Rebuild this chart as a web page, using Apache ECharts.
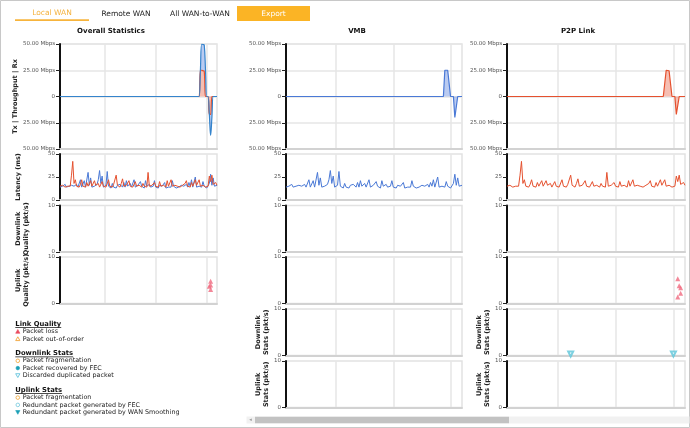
<!DOCTYPE html>
<html>
<head>
<meta charset="utf-8">
<script src="https://cdn.jsdelivr.net/npm/echarts@6/dist/echarts.min.js"></script>
<style>
html, body { margin: 0; padding: 0; background: #fff; }
#main { width: 690px; height: 428px; }
</style>
</head>
<body>
<div id="main"></div>
<script>
// ---- data ----
const sampleCount = 124
const gridMarks = [35, 75, 115]   // sample index of the vertical grid lines

// throughput (Mbps), Rx positive / Tx negative, [sample, value]
const vmbThroughput = [[110, 0], [111, 25], [112, 25], [113, 25], [114, 25], [115, 0],
                       [117, 0], [118, -20], [119, -20], [120, 0]]
const p2pThroughput = [[109, 0], [110, 25], [111, 25], [112, 24.5], [113, 24], [114, 0],
                       [116, 0], [117, -17], [118, -17], [119, 0]]

// latency (ms)
const vmbLatency = [
  14, 13, 15, 14, 17, 14, 13, 15, 14, 16,
  14, 15, 13, 17, 14, 15, 22, 14, 13, 21,
  14, 15, 30, 16, 24, 14, 13, 15, 14, 17,
  22, 32, 18, 26, 14, 15, 16, 31, 15, 14,
  13, 18, 14, 15, 13, 16, 14, 17, 15, 14,
  19, 14, 21, 15, 13, 18, 14, 15, 22, 14,
  13, 16, 14, 20, 15, 14, 13, 21, 15, 14,
  17, 14, 13, 15, 21, 14, 15, 13, 16, 14,
  15, 14, 19, 13, 15, 14, 16, 14, 21, 15,
  14, 13, 15, 14, 13, 16, 14, 15, 14, 17,
  14, 19, 15, 22, 14, 15, 25, 14, 13, 15,
  16, 14, 20, 15, 14, 13, 14, 18, 28, 16,
  24, 15, 14, 16
]
const p2pLatency = [
  15, 14, 16, 15, 14, 16, 15, 17, 15, 27,
  42, 18, 22, 15, 16, 14, 17, 22, 15, 16,
  14, 19, 15, 17, 21, 15, 14, 21, 16, 15,
  18, 14, 15, 20, 15, 16, 14, 15, 22, 15,
  16, 14, 17, 15, 27, 16, 15, 14, 18, 23,
  15, 14, 16, 15, 21, 15, 17, 14, 15, 20,
  15, 14, 16, 15, 14, 18, 15, 16, 14, 30,
  15, 14, 16, 15, 19, 15, 16, 14, 20, 15,
  14, 16, 15, 14, 21, 15, 17, 22, 15, 14,
  16, 14, 15, 17, 14, 15, 16, 14, 18, 21,
  15, 16, 14, 19, 15, 17, 22, 16, 15, 22,
  15, 14, 16, 15, 14, 16, 15, 26, 20, 27,
  17, 15, 19, 16
]

// packet events (pkt/s), [sample, value]
const overallPacketLoss = [[118, 4.8], [118, 4.0], [117, 3.7], [118, 3.0]]
const p2pPacketLoss = [[118, 5.3], [119, 3.8], [120, 3.4], [120, 2.2], [118, 1.4]]
const p2pDiscardedDup = [[44, 0], [115, 0]]

// ---- layout / style ----
const FONT = '"DejaVu Sans", Verdana, sans-serif'
const colors = {
    blue: '#4a79d6',
    blueFill: 'rgba(96,136,222,0.62)',
    red: '#e5512f',
    redFill: 'rgba(236,118,92,0.68)',
    loss: '#f06a80',
    dup: '#5cc6da'
}
const columns = [
    { left: 60, width: 157, title: 'Overall Statistics', center: 111, panels: 4 },
    { left: 286, width: 176, title: 'VMB', center: 357, panels: 6 },
    { left: 507, width: 178, title: 'P2P Link', center: 578, panels: 6 }
]
const panels = [
    { key: 'throughput', top: 44, height: 105 },
    { key: 'latency', top: 154, height: 46 },
    { key: 'downQuality', top: 205.5, height: 46.5 },
    { key: 'upQuality', top: 257, height: 46.5 },
    { key: 'downStats', top: 309, height: 46.5 },
    { key: 'upStats', top: 361, height: 46.5 }
]
const axisNames = {
    throughput: ['Tx | Throughput | Rx', 38],
    latency: ['Latency (ms)', 38],
    downQuality: ['Downlink\nQuality (pkt/s)', 30],
    upQuality: ['Uplink\nQuality (pkt/s)', 30],
    downStats: ['Downlink\nStats (pkt/s)', 5],
    upStats: ['Uplink\nStats (pkt/s)', 5]
}
const sampleIdx = Array.from({ length: sampleCount }, (_, i) => i)

const chart = echarts.init(document.getElementById('main'), null, { renderer: 'canvas' })

function dense(points) {
    const arr = new Array(sampleCount).fill(0)
    points.forEach(([i, v]) => { arr[i] = v })
    return arr
}
function yAxisFor(key, showName) {
    const base = {
        type: 'value',
        axisLine: { show: true, lineStyle: { color: '#111', width: 2 } },
        axisTick: { show: true, length: 4, lineStyle: { color: '#222' } },
        axisLabel: { fontSize: 5.5, color: '#555', margin: 5, fontFamily: FONT },
        splitLine: { show: false }
    }
    if (key === 'throughput') {
        Object.assign(base, { min: -50, max: 50, interval: 25 })
        base.axisLabel.formatter = v => v === 0 ? '0' : Math.abs(v).toFixed(2) + ' Mbps'
        base.splitLine = { show: true, lineStyle: { color: '#e6e6e6', width: 1.5 } }
    } else if (key === 'latency') {
        Object.assign(base, { min: 0, max: 50, interval: 25 })
    } else {
        Object.assign(base, { min: 0, max: 10, interval: 10 })
    }
    if (showName) {
        base.name = axisNames[key][0]
        base.nameLocation = 'middle'
        base.nameGap = axisNames[key][1]
        base.nameRotate = 90
        base.nameTextStyle = { fontSize: 6.5, fontWeight: 'bold', color: '#222', fontFamily: FONT, lineHeight: 8 }
    }
    return base
}

const grid = [], xAxis = [], yAxis = [], series = []
const gridIndex = {}
columns.forEach((col, c) => {
    for (let p = 0; p < col.panels; p++) {
        const pn = panels[p]
        const idx = grid.length
        gridIndex[c + ':' + pn.key] = idx
        grid.push({
            left: col.left, width: col.width, top: pn.top, height: pn.height,
            show: true, borderColor: '#e2e2e2', borderWidth: 1.5, backgroundColor: 'transparent'
        })
        xAxis.push({
            type: 'category', gridIndex: idx, data: sampleIdx, boundaryGap: false,
            axisLine: { onZero: false, lineStyle: { color: '#d2d2d2', width: 2 } },
            axisTick: { show: false }, axisLabel: { show: false },
            splitLine: { show: true, interval: i => gridMarks.includes(i), lineStyle: { color: '#e6e6e6', width: 1.5 } }
        })
        const named = c === 0 || pn.key === 'downStats' || pn.key === 'upStats'
        yAxis.push(Object.assign(yAxisFor(pn.key, named), { gridIndex: idx }))
    }
})

function areaSeries(key, data, color, fill, extra) {
    const g = gridIndex[key]
    return Object.assign({
        type: 'line', xAxisIndex: g, yAxisIndex: g, data,
        showSymbol: false, lineStyle: { color, width: 1.2 }, itemStyle: { color },
        areaStyle: { color: fill }
    }, extra || {})
}
function lineSeries(key, data, color) {
    const g = gridIndex[key]
    return {
        type: 'line', xAxisIndex: g, yAxisIndex: g, data,
        showSymbol: false, lineStyle: { color, width: 1 }, itemStyle: { color }
    }
}
function scatterSeries(key, data, symbol, color, extra) {
    const g = gridIndex[key]
    return Object.assign({
        type: 'scatter', xAxisIndex: g, yAxisIndex: g, data, symbol, symbolSize: 5,
        itemStyle: { color }
    }, extra || {})
}

// overall: stacked p2p + vmb
series.push(areaSeries('0:throughput', dense(p2pThroughput), colors.red, colors.redFill, { stack: 'total', smooth: 0.4 }))
series.push(areaSeries('0:throughput', dense(vmbThroughput), '#3584cc', colors.blueFill, { stack: 'total', smooth: 0.4 }))
series.push(lineSeries('0:latency', vmbLatency, colors.blue))
series.push(lineSeries('0:latency', p2pLatency, colors.red))
series.push(scatterSeries('0:upQuality', overallPacketLoss, 'triangle', colors.loss))
// VMB
series.push(areaSeries('1:throughput', dense(vmbThroughput), colors.blue, colors.blueFill))
series.push(lineSeries('1:latency', vmbLatency, colors.blue))
// P2P
series.push(areaSeries('2:throughput', dense(p2pThroughput), colors.red, colors.redFill))
series.push(lineSeries('2:latency', p2pLatency, colors.red))
series.push(scatterSeries('2:upQuality', p2pPacketLoss, 'triangle', colors.loss))
series.push(scatterSeries('2:downStats', p2pDiscardedDup, 'emptyTriangle', colors.dup,
    { symbolRotate: 180, symbolOffset: [0, -1.5], symbolSize: 5, itemStyle: { color: colors.dup, borderWidth: 1 } }))

// ---- page decorations ----
const measureCtx = document.createElement('canvas').getContext('2d')
function textWidth(text, font) {
    measureCtx.font = font
    return measureCtx.measureText(text).width
}
function txt(text, x, y, opts) {
    return {
        type: 'text', x, y, silent: true,
        style: Object.assign({ text, fill: '#222', font: '7px ' + FONT, align: 'left', verticalAlign: 'middle' }, opts || {})
    }
}
// small legend marks: tri-up / tri-down / circle, filled or hollow
function mark(kind, filled, color, cx, cy) {
    const style = filled ? { fill: color, stroke: color, lineWidth: 0.6 } : { fill: '#fff', stroke: color, lineWidth: 0.9 }
    if (kind === 'circle') {
        return { type: 'circle', shape: { cx, cy, r: 1.8 }, style, silent: true }
    }
    const s = 2.1
    const pts = kind === 'up'
        ? [[cx, cy - s], [cx + s, cy + s * 0.8], [cx - s, cy + s * 0.8]]
        : [[cx - s, cy - s * 0.8], [cx + s, cy - s * 0.8], [cx, cy + s]]
    return { type: 'polygon', shape: { points: pts }, style, silent: true }
}
const graphic = []
graphic.push({ type: 'rect', shape: { x: 0.5, y: 0.5, width: 689, height: 427 }, style: { fill: 'none', stroke: '#c8c8c8', lineWidth: 1 }, silent: true })
// tabs
graphic.push(txt('Local WAN', 52, 13, { fill: '#f4b23e', align: 'center', font: '7.5px ' + FONT }))
graphic.push({ type: 'rect', shape: { x: 15, y: 19.3, width: 74, height: 1.6 }, style: { fill: '#f7b43c' }, silent: true })
graphic.push(txt('Remote WAN', 126, 14, { fill: '#222', align: 'center', font: '7.5px ' + FONT }))
graphic.push(txt('All WAN-to-WAN', 200, 14, { fill: '#222', align: 'center', font: '7.5px ' + FONT }))
graphic.push({ type: 'rect', shape: { x: 237, y: 6, width: 73, height: 15 }, style: { fill: '#fbb425' }, silent: true })
graphic.push(txt('Export', 273.5, 14, { fill: '#fff', align: 'center', font: '7.5px ' + FONT }))
// column titles
columns.forEach(col => {
    graphic.push(txt(col.title, col.center, 31, { align: 'center', font: 'bold 7px ' + FONT, fill: '#111' }))
})
// legend
const legendGroups = [
    { title: 'Link Quality', y: 324.3, items: [
        ['up', true, '#ea4b5e', 'Packet loss'],
        ['up', false, '#f0a43a', 'Packet out-of-order']
    ] },
    { title: 'Downlink Stats', y: 353.5, items: [
        ['circle', false, '#f2ad45', 'Packet fragmentation'],
        ['circle', true, '#1b9fb6', 'Packet recovered by FEC'],
        ['down', false, '#62c3dc', 'Discarded duplicated packet']
    ] },
    { title: 'Uplink Stats', y: 390.3, items: [
        ['circle', false, '#f2ad45', 'Packet fragmentation'],
        ['circle', false, '#7fcde0', 'Redundant packet generated by FEC'],
        ['down', true, '#1b9fb6', 'Redundant packet generated by WAN Smoothing']
    ] }
]
legendGroups.forEach(group => {
    const hFont = 'bold 6.8px ' + FONT
    graphic.push(txt(group.title, 15.3, group.y, { font: hFont, fill: '#111' }))
    graphic.push({ type: 'rect', shape: { x: 15.3, y: group.y + 3, width: textWidth(group.title, hFont), height: 0.7 }, style: { fill: '#111' }, silent: true })
    group.items.forEach((it, k) => {
        const y = group.y + 7.3 * (k + 1)
        graphic.push(mark(it[0], it[1], it[2], 17.8, y))
        graphic.push(txt(it[3], 22.7, y, { font: '6.4px ' + FONT, fill: '#222' }))
    })
})
// horizontal scroll bar
graphic.push({ type: 'rect', shape: { x: 246.5, y: 416.5, width: 443, height: 7 }, style: { fill: '#f1f1f1' }, silent: true })
graphic.push({ type: 'rect', shape: { x: 255, y: 416.8, width: 254, height: 6.4 }, style: { fill: '#c2c2c2' }, silent: true })
graphic.push(txt('◂', 250.5, 420, { fill: '#9a9a9a', align: 'center', font: '5px ' + FONT }))

const option = {
    animation: false,
    backgroundColor: '#fff',
    grid, xAxis, yAxis, series, graphic
}
chart.setOption(option)
</script>
</body>
</html>
